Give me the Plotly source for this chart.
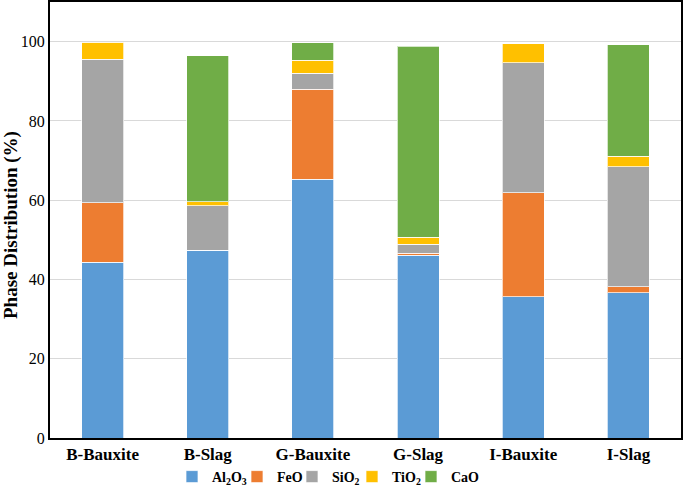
import plotly.graph_objects as go

categories = ["B-Bauxite", "B-Slag", "G-Bauxite", "G-Slag", "I-Bauxite", "I-Slag"]
al2o3 = [44.3, 47.4, 65.3, 46.1, 35.7, 36.6]
feo = [15.1, 0.0, 22.7, 0.5, 26.2, 1.5]
sio2 = [36.2, 11.2, 4.0, 2.3, 32.8, 30.3]
tio2 = [4.3, 1.0, 3.3, 1.8, 4.8, 2.7]
cao = [0.0, 36.9, 4.4, 48.2, 0.0, 28.1]

series_names = ["Al<sub>2</sub>O<sub>3</sub>", "FeO", "SiO<sub>2</sub>", "TiO<sub>2</sub>", "CaO"]
series_values = [al2o3, feo, sio2, tio2, cao]
colors = ["#5B9BD5", "#ED7D31", "#A5A5A5", "#FFC000", "#70AD47"]
y_ticks = [0, 20, 40, 60, 80, 100]

font_family = "Liberation Serif"

# plot area geometry (px)
W, H = 685, 486
L_M, R_M, T_M, B_M = 50, 4, 2, 48
PW = W - L_M - R_M
PH = H - T_M - B_M
legend_left_px = [172, 237, 292, 352, 411]
legend_center_y_px = 477

fig = go.Figure()
legend_ids = ["legend"] + ["legend%d" % i for i in range(2, len(series_names) + 1)]
for name, vals, col, lid in zip(series_names, series_values, colors, legend_ids):
    fig.add_trace(go.Bar(
        x=categories, y=vals, name="<b>" + name + "</b>",
        marker=dict(color=col, line=dict(color="rgba(255,255,255,0.7)", width=1)),
        width=0.4, legend=lid,
    ))

legend_layout = {}
for lid, lx in zip(legend_ids, legend_left_px):
    legend_layout[lid] = dict(
        orientation="h", xref="container", x=lx / W, xanchor="left",
        yref="container", y=(H - legend_center_y_px) / H, yanchor="middle",
        font=dict(family=font_family, size=14, color="black"),
        itemwidth=30, bgcolor="rgba(0,0,0,0)",
    )

fig.update_layout(
    barmode="stack",
    width=W, height=H,
    margin=dict(l=L_M, r=R_M, t=T_M, b=B_M, autoexpand=False),
    paper_bgcolor="white", plot_bgcolor="white",
    font=dict(family=font_family, color="black"),
    showlegend=True,
    xaxis=dict(
        automargin=False,
        showline=True, linecolor="black", linewidth=2, mirror=True,
        tickfont=dict(family=font_family, size=17, color="black"),
        ticks="", showgrid=False,
        tickprefix="<b>", ticksuffix="</b>",
    ),
    yaxis=dict(
        automargin=False,
        range=[0, 110], tickvals=y_ticks, ticktext=[str(t) for t in y_ticks],
        showline=True, linecolor="black", linewidth=2, mirror=True,
        showgrid=True, gridcolor="#D9D9D9", gridwidth=1,
        tickfont=dict(family=font_family, size=16, color="black"),
        ticks="", zeroline=False,
        tickprefix="<b>", ticksuffix="</b>",
    ),
    annotations=[dict(
        text="<b>Phase Distribution (%)</b>",
        xref="paper", yref="paper", x=(11 - L_M) / PW, y=(438 - 225) / PH,
        xanchor="center", yanchor="middle", textangle=-90, showarrow=False,
        font=dict(family=font_family, size=19, color="black"),
    )],
    **legend_layout,
)

fig.write_html(
    "out.html",
    config={"displayModeBar": False},
    post_script="document.body.style.margin='0';document.body.style.overflow='hidden';",
)
